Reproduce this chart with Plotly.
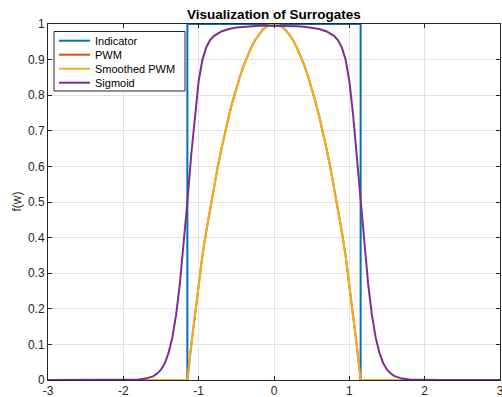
import plotly.graph_objects as go

# ---- data ----
ind_x = [-3, -1.15, -1.15, 1.15, 1.15, 3]
ind_y = [0, 0, 1, 1, 0, 0]

pwm_x = [-3, -1.15, -1.1, -1.05, -1.0, -0.95, -0.9, -0.85, -0.8, -0.75, -0.7, -0.65,
         -0.6, -0.55, -0.5, -0.45, -0.4, -0.35, -0.3, -0.25, -0.2, -0.15, -0.1, -0.05,
         0, 0.05, 0.1, 0.15, 0.2, 0.25, 0.3, 0.35, 0.4, 0.45, 0.5, 0.55, 0.6, 0.65,
         0.7, 0.75, 0.8, 0.85, 0.9, 0.95, 1.0, 1.05, 1.1, 1.15, 3]
pwm_y = [0, 0, 0.095, 0.185, 0.27, 0.35, 0.417, 0.48, 0.539, 0.595, 0.647, 0.696,
         0.741, 0.782, 0.82, 0.854, 0.885, 0.912, 0.935, 0.955, 0.971, 0.984, 0.993, 0.998,
         1.0, 0.998, 0.993, 0.984, 0.971, 0.955, 0.935, 0.912, 0.885, 0.854, 0.82, 0.782, 0.741, 0.696,
         0.647, 0.595, 0.539, 0.48, 0.417, 0.35, 0.27, 0.185, 0.095, 0, 0]

spwm_x = list(pwm_x)
spwm_y = list(pwm_y)

sig_x = [-3, -2.5, -2.2, -2.0, -1.9, -1.8, -1.7, -1.6, -1.55, -1.5, -1.45, -1.4, -1.35,
         -1.3, -1.25, -1.2, -1.15, -1.1, -1.05, -1.0, -0.95, -0.9, -0.85, -0.8, -0.7,
         -0.6, -0.5, -0.4, -0.3, -0.2, -0.1, 0, 0.1, 0.2, 0.3, 0.4, 0.5, 0.6, 0.7, 0.8,
         0.85, 0.9, 0.95, 1.0, 1.05, 1.1, 1.15, 1.2, 1.25, 1.3, 1.35, 1.4, 1.45, 1.5,
         1.55, 1.6, 1.7, 1.8, 1.9, 2.0, 2.2, 2.5, 3]
sig_y = [0, 0, 0, 0.0002, 0.0006, 0.0015, 0.004, 0.011, 0.018, 0.029, 0.047, 0.076, 0.119,
         0.182, 0.269, 0.378, 0.5, 0.63, 0.745, 0.84, 0.9, 0.934, 0.954, 0.966, 0.979,
         0.986, 0.99, 0.992, 0.994, 0.995, 0.995, 0.995, 0.995, 0.995, 0.994, 0.992, 0.99, 0.986, 0.979, 0.966,
         0.954, 0.934, 0.9, 0.84, 0.745, 0.63, 0.5, 0.378, 0.269, 0.182, 0.119, 0.076, 0.047, 0.029,
         0.018, 0.011, 0.004, 0.0015, 0.0006, 0.0002, 0, 0, 0]

series_names = ["Indicator", "PWM", "Smoothed PWM", "Sigmoid"]
series_colors = ["#0072BD", "#D95319", "#EDB120", "#7E2F8E"]

x_ticks = [-3, -2, -1, 0, 1, 2, 3]
y_ticks = [0, 0.1, 0.2, 0.3, 0.4, 0.5, 0.6, 0.7, 0.8, 0.9, 1]
y_labels = ["0", "0.1", "0.2", "0.3", "0.4", "0.5", "0.6", "0.7", "0.8", "0.9", "1"]

FONT = "Liberation Sans, Arial, Helvetica, sans-serif"
AX = "#262626"
GRID = "#e3e3e3"

W, H = 502, 397
ML, MR, MT, MB = 48, 2, 24, 17
PW, PH = W - ML - MR, H - MT - MB


def px_x(p):
    return (p - ML) / PW


def px_y(p):
    return 1 - (p - MT) / PH


fig = go.Figure()
data = [(ind_x, ind_y), (pwm_x, pwm_y), (spwm_x, spwm_y), (sig_x, sig_y)]
for (xs, ys), nm, col in zip(data, series_names, series_colors):
    fig.add_trace(go.Scatter(x=xs, y=ys, mode="lines", name=nm,
                             line=dict(color=col, width=2), showlegend=False))

# custom legend (MATLAB-style compact box)
shapes = [dict(type="rect", xref="paper", yref="paper",
               x0=px_x(54), x1=px_x(185), y0=px_y(91), y1=px_y(31.5),
               line=dict(color=AX, width=1), fillcolor="white", layer="above")]
annotations = []
for i, (nm, col) in enumerate(zip(series_names, series_colors)):
    yy = px_y(40.7 + 14 * i)
    shapes.append(dict(type="line", xref="paper", yref="paper",
                       x0=px_x(59), x1=px_x(90), y0=yy, y1=yy,
                       line=dict(color=col, width=2), layer="above"))
    annotations.append(dict(text=nm, xref="paper", yref="paper", x=px_x(92.5), y=yy,
                            xanchor="left", yanchor="middle", showarrow=False,
                            font=dict(family=FONT, size=11, color="black")))

annotations.append(dict(text="f(w)", xref="paper", yref="paper", x=px_x(16.5), y=0.5,
                        xanchor="center", yanchor="middle", textangle=-90, showarrow=False,
                        font=dict(family=FONT, size=12, color=AX)))

fig.update_layout(
    width=W, height=H,
    margin=dict(l=ML, r=MR, t=MT, b=MB),
    paper_bgcolor="white", plot_bgcolor="white",
    font=dict(family=FONT, size=12, color=AX),
    title=dict(text="<b>Visualization of Surrogates</b>", x=0.5, xref="paper",
               xanchor="center", y=1 - 14 / H, yanchor="middle",
               font=dict(family=FONT, size=13.5, color="black")),
    showlegend=False,
    shapes=shapes,
    annotations=annotations,
)
fig.update_xaxes(range=[-3, 3], tickvals=x_ticks, ticktext=[str(v) for v in x_ticks],
                 showgrid=True, gridcolor=GRID, gridwidth=1, zeroline=False,
                 showline=True, linecolor=AX, linewidth=1, mirror="ticks",
                 ticks="inside", ticklen=4, tickcolor=AX, automargin=False,
                 ticklabeloverflow="allow",
                 tickfont=dict(size=12, color=AX))
fig.update_yaxes(range=[0, 1], tickvals=y_ticks, ticktext=y_labels,
                 showgrid=True, gridcolor=GRID, gridwidth=1, zeroline=False,
                 showline=True, linecolor=AX, linewidth=1, mirror="ticks",
                 ticks="inside", ticklen=4, tickcolor=AX, automargin=False,
                 ticklabeloverflow="allow",
                 tickfont=dict(size=12, color=AX))

fig.write_html("out.html", config={"displayModeBar": False},
               post_script="document.body.style.margin='0';document.body.style.padding='0';"
                           "document.body.style.overflow='hidden';")
